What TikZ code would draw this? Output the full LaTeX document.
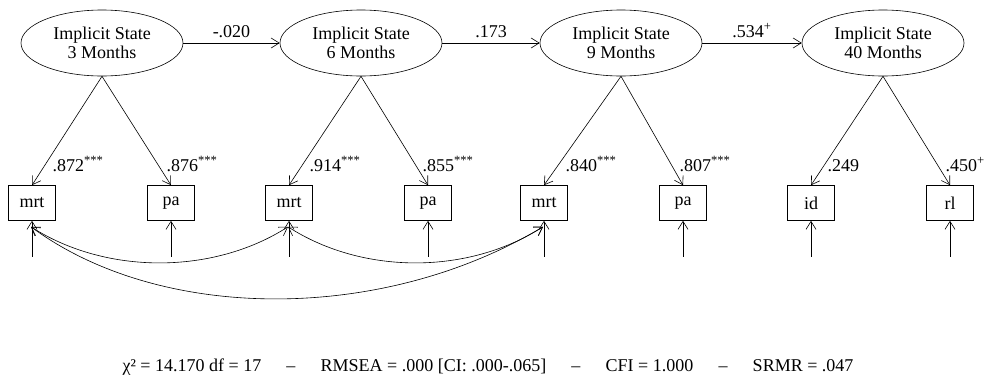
\documentclass[tikz,border=0pt]{standalone}
\usepackage{fontspec}
\setmainfont{Liberation Serif}
\usetikzlibrary{shapes.geometric,arrows.meta}
\tikzset{
	latent/.style={ellipse,draw,line width=0.6pt,inner sep=0pt,minimum width=162pt,minimum height=66pt,align=center,font=\fontsize{18}{19}\selectfont},
	obs/.style={rectangle,draw,line width=0.6pt,inner sep=0pt,minimum width=47pt,minimum height=35pt,font=\fontsize{18}{19}\selectfont},
	coef/.style={font=\fontsize{18}{19}\selectfont},
	path/.style={line width=0.6pt,-{Straight Barb[length=8pt,width=10pt]}},
	cov/.style={line width=0.6pt,{Straight Barb[length=8pt,width=10pt]}-{Straight Barb[length=8pt,width=10pt]}}
}

\begin{document}
\begin{tikzpicture}[x=1pt,y=-1pt]
	\useasboundingbox (0,0) rectangle (985,381);
	
	% latent states
	\node [latent] (e3) at (102,43) {Implicit State\\3 Months};
	\node [latent] (e6) at (361,43) {Implicit State\\6 Months};
	\node [latent] (e9) at (621,43) {Implicit State\\9 Months};
	\node [latent] (e40) at (883,43) {Implicit State\\40 Months};
	
	% indicators
	\node [obs] (m3) at (32,203) {mrt};
	\node [obs] (p3) at (171,203) {pa};
	\node [obs] (m6) at (289,203) {mrt};
	\node [obs] (p6) at (428,203) {pa};
	\node [obs] (m9) at (544,203) {mrt};
	\node [obs] (p9) at (683,203) {pa};
	\node [obs] (id40) at (811,203) {id};
	\node [obs] (rl40) at (950,203) {rl};
	
	% stability paths
	\draw [path] (e3) -- (e6) node [midway,above=2pt,coef] {-.020};
	\draw [path] (e6) -- (e9) node [midway,above=2pt,coef] {.173};
	\draw [path] (e9) -- (e40) node [midway,above=2pt,coef] {.534\textsuperscript{+}};
	
	% loadings
	\draw [path] (e3.south) -- (m3.north);
	\draw [path] (e3.south) -- (p3.north);
	\draw [path] (e6.south) -- (m6.north);
	\draw [path] (e6.south) -- (p6.north);
	\draw [path] (e9.south) -- (m9.north);
	\draw [path] (e9.south) -- (p9.north);
	\draw [path] (e40.south) -- (id40.north);
	\draw [path] (e40.south) -- (rl40.north);
	
	\node [coef,anchor=base west] (l1) at (49,171) {.872\textsuperscript{***}};
	\node [coef,anchor=base west] (l2) at (163,171) {.876\textsuperscript{***}};
	\node [coef,anchor=base west] (l3) at (306,171) {.914\textsuperscript{***}};
	\node [coef,anchor=base west] (l4) at (419,171) {.855\textsuperscript{***}};
	\node [coef,anchor=base west] (l5) at (562,171) {.840\textsuperscript{***}};
	\node [coef,anchor=base west] (l6) at (676,171) {.807\textsuperscript{***}};
	\node [coef,anchor=base west] (l7) at (824,171) {.249};
	\node [coef,anchor=base west] (l8) at (942,171) {.450\textsuperscript{+}};
	
	% residuals
	\foreach \b in {m3,p3,m6,p6,m9,p9,id40,rl40}
		\draw [path] (\b.south) ++(0,36) coordinate (u\b) -- (\b.south);
	
	% correlated residuals
	\coordinate (c3) at ([xshift=-1pt,yshift=-6pt]m3.south);
	\coordinate (c6) at ([xshift=-1pt,yshift=-6pt]m6.south);
	\coordinate (c9) at ([xshift=-1pt,yshift=-6pt]m9.south);
	\draw [cov] (c3) .. controls +(75,48) and +(-75,48) .. (c6);
	\draw [cov] (c6) .. controls +(75,48) and +(-75,48) .. (c9);
	\draw [cov] (c3) .. controls +(130,96) and +(-160,96) .. (c9);
	
	% fit
	\node [coef] (fit) at (488,367) {χ² = 14.170 df = 17\hspace{1.4em}–\hspace{1.4em}RMSEA = .000 [CI: .000-.065]\hspace{1.4em}–\hspace{1.4em}CFI = 1.000\hspace{1.4em}–\hspace{1.4em}SRMR = .047};
\end{tikzpicture}
\end{document}
